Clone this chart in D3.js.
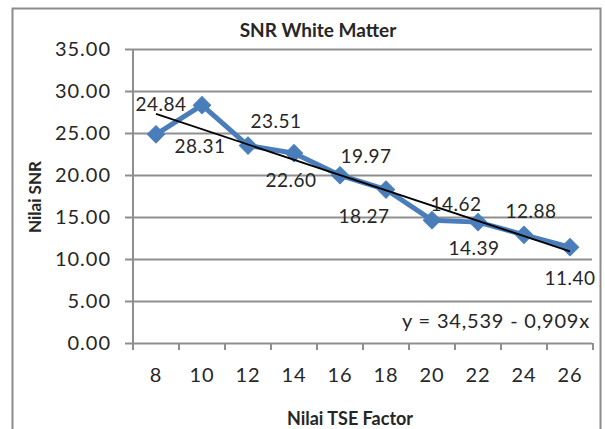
<!DOCTYPE html>
<html>
<head>
<meta charset="utf-8">
<script src="https://cdn.jsdelivr.net/npm/d3@7"></script>
<style>
  html, body { margin: 0; padding: 0; background: #fff; }
  svg { display: block; }
  text { font-family: Lato, "Open Sans", sans-serif; fill: #262626; }
</style>
</head>
<body>
<svg id="chart" width="605" height="429"></svg>
<script>
// ---- data ----
const categories = [8, 10, 12, 14, 16, 18, 20, 22, 24, 26];
const snrValues = [24.84, 28.31, 23.51, 22.60, 19.97, 18.27, 14.62, 14.39, 12.88, 11.40];
const yTickValues = [0, 5, 10, 15, 20, 25, 30, 35];
const trendIntercept = 34.539;
const trendSlope = -0.909;
const chartTitle = "SNR White Matter";
const xTitle = "Nilai TSE Factor";
const yTitle = "Nilai SNR";
const equationText = "y = 34,539 - 0,909x";

// ---- layout (label placement relative to each point) ----
const labelOffsets = [[5, -30], [-2, 41], [28, -24], [-3, 27], [26, -19],
                      [-22, 27], [24, -16], [-4, 26], [7, -23], [0, 31]];

const svg = d3.select("#chart");
const W = 605, H = 429;
const plot = { left: 133, right: 593, top: 49, bottom: 343 };

svg.append("rect").attr("x", 0).attr("y", 0).attr("width", W).attr("height", H).attr("fill", "#fff");
// outer frame
svg.append("rect").attr("x", 12.5).attr("y", 8.5).attr("width", 588).attr("height", 440)
  .attr("fill", "none").attr("stroke", "#8c8c8c").attr("stroke-width", 2);

const x = d3.scaleBand().domain(categories).range([plot.left, plot.right]);
const y = d3.scaleLinear().domain([0, 35]).range([plot.bottom, plot.top]);
const cx = d => x(d) + x.bandwidth() / 2;

// gridlines + y axis labels
const yAxis = d3.axisLeft(y).tickValues(yTickValues).tickFormat(d3.format(".2f"))
  .tickSize(0).tickPadding(14);
const gy = svg.append("g").attr("transform", `translate(125,0)`).call(yAxis);
gy.select(".domain").remove();
gy.selectAll(".tick line").attr("x1", 0).attr("x2", plot.right - 125 - 1)
  .attr("stroke", "#8f8f8f").attr("stroke-width", 2);
gy.selectAll(".tick text").attr("font-size", 20).attr("fill", "#262626")
  .attr("font-family", "Lato, sans-serif").attr("letter-spacing", 1);

// y axis line
svg.append("line").attr("x1", plot.left).attr("x2", plot.left)
  .attr("y1", plot.top).attr("y2", plot.bottom)
  .attr("stroke", "#8f8f8f").attr("stroke-width", 2);

// x axis ticks at band boundaries
const boundaries = categories.map(c => x(c)).concat([plot.right]);
svg.append("g").selectAll("line").data(boundaries).join("line")
  .attr("x1", d => d).attr("x2", d => d)
  .attr("y1", plot.bottom).attr("y2", plot.bottom + 7)
  .attr("stroke", "#8f8f8f").attr("stroke-width", 2);

// x tick labels
svg.append("g").selectAll("text").data(categories).join("text")
  .attr("x", d => cx(d)).attr("y", 382)
  .attr("text-anchor", "middle").attr("font-size", 20).attr("letter-spacing", 1)
  .text(d => d);

// series line
const line = d3.line().x((d, i) => cx(categories[i])).y(d => y(d));
svg.append("path").datum(snrValues).attr("d", line)
  .attr("fill", "none").attr("stroke", "#4a7ebb").attr("stroke-width", 5)
  .attr("stroke-linejoin", "round");

// markers (diamonds = rotated squares)
svg.append("g").selectAll("path").data(snrValues).join("path")
  .attr("transform", (d, i) => `translate(${cx(categories[i])},${y(d)}) rotate(45)`)
  .attr("d", d3.symbol().type(d3.symbolSquare).size(150))
  .attr("fill", "#4a7ebb").attr("stroke", "#4a7ebb").attr("stroke-width", 1);

// trend line
const xFirst = categories[0], xLast = categories[categories.length - 1];
svg.append("line")
  .attr("x1", cx(xFirst)).attr("y1", y(trendIntercept + trendSlope * xFirst))
  .attr("x2", cx(xLast)).attr("y2", y(trendIntercept + trendSlope * xLast))
  .attr("stroke", "#000").attr("stroke-width", 1.8);

// data labels
svg.append("g").selectAll("text").data(snrValues).join("text")
  .attr("x", (d, i) => cx(categories[i]) + labelOffsets[i][0])
  .attr("y", (d, i) => y(d) + labelOffsets[i][1])
  .attr("dy", "0.35em")
  .attr("text-anchor", "middle").attr("font-size", 19).attr("letter-spacing", 0.5)
  .text(d => d.toFixed(2));

// equation
svg.append("text").attr("x", 590).attr("y", 328).attr("text-anchor", "end")
  .attr("font-size", 20).attr("letter-spacing", 0.8)
  .text(equationText);

// titles
svg.append("text").attr("x", 318).attr("y", 37).attr("text-anchor", "middle")
  .attr("font-size", 19).attr("font-weight", "bold").attr("fill", "#000").text(chartTitle);
svg.append("text").attr("x", 350).attr("y", 425).attr("text-anchor", "middle")
  .attr("font-size", 18).attr("font-weight", "bold").attr("fill", "#000").text(xTitle);
svg.append("text").attr("transform", "translate(41,197) rotate(-90)")
  .attr("text-anchor", "middle").attr("font-size", 17).attr("font-weight", "bold")
  .attr("fill", "#000").text(yTitle);
</script>
</body>
</html>
